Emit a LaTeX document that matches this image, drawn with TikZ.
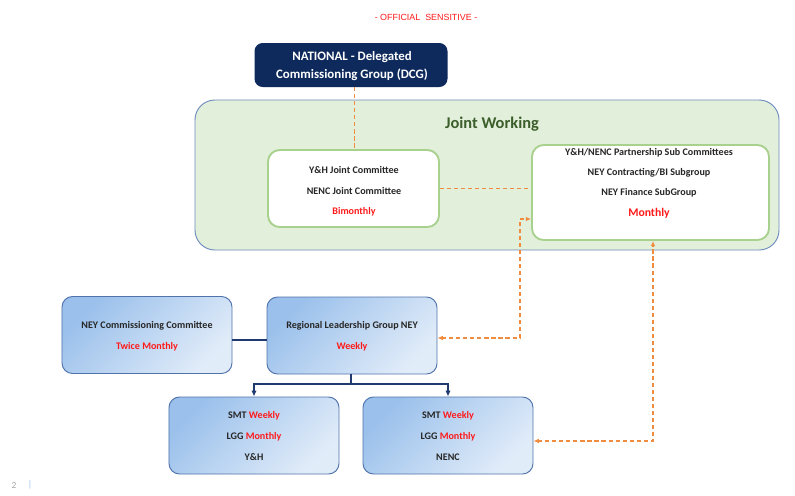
\documentclass[tikz,border=0pt]{standalone}
\usepackage{fontspec}
\setmainfont{Carlito}
\newfontfamily\arialf{Liberation Sans}
\usetikzlibrary{arrows.meta}
\definecolor{navy}{HTML}{0E2A5C}
\definecolor{jwfill}{HTML}{E2EFDA}
\definecolor{jwdraw}{HTML}{6F8DBF}
\definecolor{jwtext}{HTML}{3B5E2B}
\definecolor{grn}{HTML}{A9D18E}
\definecolor{bluetl}{HTML}{9AC0EB}
\definecolor{bluebr}{HTML}{E1ECF9}
\definecolor{bluedraw}{HTML}{5073AC}
\definecolor{orng}{HTML}{F08C40}
\definecolor{txt}{HTML}{262626}
\definecolor{redt}{HTML}{FF1A1A}
\definecolor{treec}{HTML}{1F3A6E}
\begin{document}
\begin{tikzpicture}[x=0.03cm,y=-0.03cm,
  lbl/.style={font=\fontsize{8.6}{9}\selectfont\bfseries, text=txt, inner sep=0pt},
  red/.style={text=redt},
  bluebox/.style={rectangle, rounded corners=9pt, draw=bluedraw, line width=0.8pt,
     top color=bluetl, bottom color=bluebr, shading angle=45, minimum width=5.1cm, minimum height=2.31cm, inner sep=0pt},
  whitebox/.style={rectangle, rounded corners=10pt, draw=grn, line width=1.6pt, fill=white, inner sep=0pt},
  odash/.style={draw=orng, line width=1.1pt, dash pattern=on 3.5pt off 2.5pt, {Latex[length=4.5pt,width=4pt]}-{Latex[length=4.5pt,width=4pt]}},
  odashplain/.style={draw=orng, line width=1.1pt, dash pattern=on 3.5pt off 2.5pt},
  tree/.style={draw=treec, line width=1pt}
]
\useasboundingbox (0,0) rectangle (795,495);
\fill[white] (0,0) rectangle (795,495);

% header
\node[font=\arialf\fontsize{7.6}{8}\selectfont, text=redt] (hdr) at (426,17) {- OFFICIAL\ \ SENSITIVE -};

% DCG
\node[rectangle, rounded corners=7pt, fill=navy, minimum width=5.79cm, minimum height=1.32cm] (DCG) at (351,65) {};
\node[font=\fontsize{11}{12}\selectfont\bfseries, text=white] (dcg1) at (352,57) {NATIONAL - Delegated};
\node[font=\fontsize{11}{12}\selectfont\bfseries, text=white] (dcg2) at (352,75) {Commissioning Group (DCG)};

% Joint working
\node[rectangle, rounded corners=17pt, fill=jwfill, draw=jwdraw, line width=0.8pt, minimum width=17.52cm, minimum height=4.5cm] (JW) at (487,175) {};
\node[font=\fontsize{14}{16}\selectfont\bfseries, text=jwtext] (jwt) at (492,124) {Joint Working};

\node[whitebox, minimum width=5.13cm, minimum height=2.31cm] (YHJC) at (353.5,188.5) {};
\node[lbl] (yh1) at (354,170) {Y\&H Joint Committee};
\node[lbl] (yh2) at (354,191) {NENC Joint Committee};
\node[lbl, red] (yh3) at (354,212) {Bimonthly};

\node[whitebox, minimum width=7.11cm, minimum height=2.85cm] (PSC) at (650.5,192.5) {};
\node[lbl] (ps1) at (649,153) {Y\&H/NENC Partnership Sub Committees};
\node[lbl] (ps2) at (649,173) {NEY Contracting/BI Subgroup};
\node[lbl] (ps3) at (649,193) {NEY Finance SubGroup};
\node[font=\fontsize{10}{11}\selectfont\bfseries, text=redt, inner sep=0pt] (ps4) at (649,213) {Monthly};

% lower boxes
\node[bluebox] (NEYCC) at (147,335) {};
\node[lbl] (nc1) at (147,326) {NEY Commissioning Committee};
\node[lbl, red] (nc2) at (147,347) {Twice Monthly};

\node[bluebox] (RLG) at (352,335.5) {};
\node[lbl] (rl1) at (352,326) {Regional Leadership Group NEY};
\node[lbl, red] (rl2) at (352,347) {Weekly};

\node[bluebox] (YHB) at (254,435.5) {};
\node[lbl] (yb1) at (254,416) {SMT \textcolor{redt}{Weekly}};
\node[lbl] (yb2) at (254,437) {LGG \textcolor{redt}{Monthly}};
\node[lbl] (yb3) at (254,457) {Y\&H};

\node[bluebox] (NENCB) at (448,435.5) {};
\node[lbl] (nb1) at (448,416) {SMT \textcolor{redt}{Weekly}};
\node[lbl] (nb2) at (448,437) {LGG \textcolor{redt}{Monthly}};
\node[lbl] (nb3) at (448,457) {NENC};

% connectors
\coordinate (kv) at (354.5,100);
\draw[odashplain] (kv |- DCG.south) -- (kv |- YHJC.north);
\draw[odashplain] (YHJC.east) -- (YHJC.east -| PSC.west);

\coordinate (k1) at (520,338);
\coordinate (k2) at (520,219);
\draw[odash] (RLG.east |- k1) -- (k1) -- (k2) -- (k2 -| PSC.west);

\coordinate (k3) at (653,441);
\draw[odash] (k3 -| NENCB.east) -- (k3) -- (k3 |- PSC.south);

\coordinate (k4) at (250,340);
\draw[tree] (k4 -| NEYCC.east) -- (k4 -| RLG.west);

\coordinate (t) at (351,384);
\draw[tree] (t |- RLG.south) -- (t);
\draw[tree, -{Latex[length=5pt,width=4.5pt]}] (t) -| (YHB.north);
\draw[tree, -{Latex[length=5pt,width=4.5pt]}] (t) -| (NENCB.north);

% page number
\node[font=\fontsize{8}{9}\selectfont, text=gray!70] (pg) at (14,485) {2};
\node[font=\fontsize{8}{9}\selectfont, text=bluetl] (pgbar) at (30,485) {|};
\end{tikzpicture}
\end{document}
